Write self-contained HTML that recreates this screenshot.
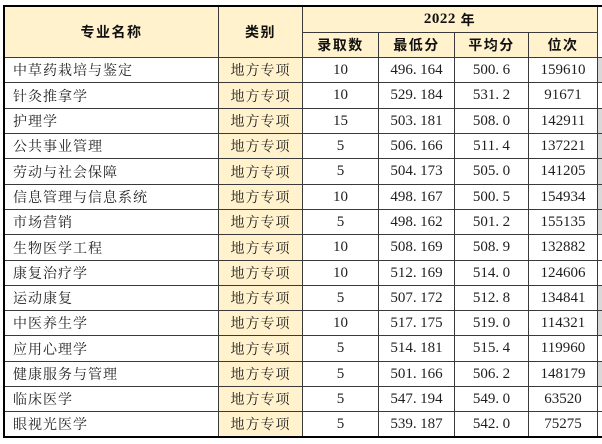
<!DOCTYPE html>
<html><head><meta charset="utf-8">
<style>
*{margin:0;padding:0;box-sizing:border-box}
body{width:602px;height:444px;background:#fff;position:relative;overflow:hidden;font-family:"Liberation Serif","Noto Serif CJK SC",serif;color:#1e1e1e}
.a{position:absolute}
.l{position:absolute;background:#3a3a3a}
.k{position:absolute;background:#000}
.c{position:absolute;display:flex;align-items:center;justify-content:center;white-space:nowrap}
.h{font-family:"Noto Sans CJK SC",sans-serif;font-weight:bold;font-size:14px;letter-spacing:1.5px;color:#111}
.n{font-family:"Liberation Serif",serif;font-size:15px}
.d{display:inline-block;width:7.3px;text-align:left}
.t{font-family:"Liberation Serif","Noto Serif CJK SC",serif;font-size:14px;letter-spacing:1px}
.nm{justify-content:flex-start;padding-left:8px}
</style></head><body>
<!-- backgrounds -->
<div class="a" style="left:5px;top:7px;width:592px;height:50px;background:#FFF2CC"></div>
<div class="a" style="left:219px;top:57px;width:83px;height:380px;background:#FFF2CC"></div>
<div class="a" style="left:598px;top:58px;width:4px;height:24px;background:#d9d9d9"></div>
<div class="a" style="left:598px;top:109px;width:4px;height:24px;background:#d9d9d9"></div>
<div class="a" style="left:598px;top:134px;width:4px;height:24px;background:#d9d9d9"></div>
<div class="a" style="left:598px;top:159px;width:4px;height:25px;background:#d9d9d9"></div>
<div class="a" style="left:598px;top:185px;width:4px;height:24px;background:#d9d9d9"></div>
<div class="a" style="left:598px;top:210px;width:4px;height:24px;background:#d9d9d9"></div>
<div class="a" style="left:598px;top:286px;width:4px;height:24px;background:#d9d9d9"></div>
<div class="a" style="left:598px;top:311px;width:4px;height:24px;background:#d9d9d9"></div>
<div class="a" style="left:598px;top:362px;width:4px;height:24px;background:#d9d9d9"></div>

<!-- grid lines -->
<div class="l" style="left:218px;top:7px;width:1px;height:430px"></div>
<div class="l" style="left:302px;top:7px;width:1px;height:430px"></div>
<div class="l" style="left:378px;top:32px;width:1px;height:405px"></div>
<div class="l" style="left:454px;top:32px;width:1px;height:405px"></div>
<div class="l" style="left:528px;top:32px;width:1px;height:405px"></div>
<div class="l" style="left:597px;top:7px;width:1px;height:430px"></div>
<div class="l" style="left:302px;top:32px;width:295px;height:1px"></div>
<div class="l" style="left:5px;top:57px;width:597px;height:1px"></div>
<div class="l" style="left:5px;top:82px;width:597px;height:1px"></div>
<div class="l" style="left:5px;top:108px;width:597px;height:1px"></div>
<div class="l" style="left:5px;top:133px;width:597px;height:1px"></div>
<div class="l" style="left:5px;top:158px;width:597px;height:1px"></div>
<div class="l" style="left:5px;top:184px;width:597px;height:1px"></div>
<div class="l" style="left:5px;top:209px;width:597px;height:1px"></div>
<div class="l" style="left:5px;top:234px;width:597px;height:1px"></div>
<div class="l" style="left:5px;top:260px;width:597px;height:1px"></div>
<div class="l" style="left:5px;top:285px;width:597px;height:1px"></div>
<div class="l" style="left:5px;top:310px;width:597px;height:1px"></div>
<div class="l" style="left:5px;top:335px;width:597px;height:1px"></div>
<div class="l" style="left:5px;top:361px;width:597px;height:1px"></div>
<div class="l" style="left:5px;top:386px;width:597px;height:1px"></div>
<div class="l" style="left:5px;top:411px;width:597px;height:1px"></div>
<div class="k" style="left:3px;top:5px;width:599px;height:2px"></div>
<div class="k" style="left:3px;top:436px;width:599px;height:2px"></div>
<div class="k" style="left:3px;top:5px;width:2px;height:433px"></div>

<!-- header -->
<div class="c h" style="left:5px;top:7px;width:213px;height:50px">专业名称</div>
<div class="c h" style="left:219px;top:7px;width:83px;height:50px">类别</div>
<div class="c h" style="left:303px;top:7px;width:294px;height:25px"><span style="font-family:'Liberation Serif',serif;font-size:15px;letter-spacing:0.5px">2022</span>&nbsp;年</div>
<div class="c h" style="left:303px;top:33px;width:75px;height:24px">录取数</div>
<div class="c h" style="left:379px;top:33px;width:75px;height:24px">最低分</div>
<div class="c h" style="left:455px;top:33px;width:73px;height:24px">平均分</div>
<div class="c h" style="left:529px;top:33px;width:68px;height:24px">位次</div>

<!-- rows -->
<div class="c t nm" style="left:5px;top:58px;width:213px;height:24px">中草药栽培与鉴定</div>
<div class="c t" style="left:219px;top:58px;width:83px;height:24px">地方专项</div>
<div class="c n" style="left:303px;top:58px;width:75px;height:24px">10</div>
<div class="c n" style="left:379px;top:58px;width:75px;height:24px">496<span class="d">.</span>164</div>
<div class="c n" style="left:455px;top:58px;width:73px;height:24px">500<span class="d">.</span>6</div>
<div class="c n" style="left:529px;top:58px;width:68px;height:24px">159610</div>

<div class="c t nm" style="left:5px;top:83px;width:213px;height:25px">针灸推拿学</div>
<div class="c t" style="left:219px;top:83px;width:83px;height:25px">地方专项</div>
<div class="c n" style="left:303px;top:83px;width:75px;height:25px">10</div>
<div class="c n" style="left:379px;top:83px;width:75px;height:25px">529<span class="d">.</span>184</div>
<div class="c n" style="left:455px;top:83px;width:73px;height:25px">531<span class="d">.</span>2</div>
<div class="c n" style="left:529px;top:83px;width:68px;height:25px">91671</div>

<div class="c t nm" style="left:5px;top:109px;width:213px;height:24px">护理学</div>
<div class="c t" style="left:219px;top:109px;width:83px;height:24px">地方专项</div>
<div class="c n" style="left:303px;top:109px;width:75px;height:24px">15</div>
<div class="c n" style="left:379px;top:109px;width:75px;height:24px">503<span class="d">.</span>181</div>
<div class="c n" style="left:455px;top:109px;width:73px;height:24px">508<span class="d">.</span>0</div>
<div class="c n" style="left:529px;top:109px;width:68px;height:24px">142911</div>

<div class="c t nm" style="left:5px;top:134px;width:213px;height:24px">公共事业管理</div>
<div class="c t" style="left:219px;top:134px;width:83px;height:24px">地方专项</div>
<div class="c n" style="left:303px;top:134px;width:75px;height:24px">5</div>
<div class="c n" style="left:379px;top:134px;width:75px;height:24px">506<span class="d">.</span>166</div>
<div class="c n" style="left:455px;top:134px;width:73px;height:24px">511<span class="d">.</span>4</div>
<div class="c n" style="left:529px;top:134px;width:68px;height:24px">137221</div>

<div class="c t nm" style="left:5px;top:159px;width:213px;height:25px">劳动与社会保障</div>
<div class="c t" style="left:219px;top:159px;width:83px;height:25px">地方专项</div>
<div class="c n" style="left:303px;top:159px;width:75px;height:25px">5</div>
<div class="c n" style="left:379px;top:159px;width:75px;height:25px">504<span class="d">.</span>173</div>
<div class="c n" style="left:455px;top:159px;width:73px;height:25px">505<span class="d">.</span>0</div>
<div class="c n" style="left:529px;top:159px;width:68px;height:25px">141205</div>

<div class="c t nm" style="left:5px;top:185px;width:213px;height:24px">信息管理与信息系统</div>
<div class="c t" style="left:219px;top:185px;width:83px;height:24px">地方专项</div>
<div class="c n" style="left:303px;top:185px;width:75px;height:24px">10</div>
<div class="c n" style="left:379px;top:185px;width:75px;height:24px">498<span class="d">.</span>167</div>
<div class="c n" style="left:455px;top:185px;width:73px;height:24px">500<span class="d">.</span>5</div>
<div class="c n" style="left:529px;top:185px;width:68px;height:24px">154934</div>

<div class="c t nm" style="left:5px;top:210px;width:213px;height:24px">市场营销</div>
<div class="c t" style="left:219px;top:210px;width:83px;height:24px">地方专项</div>
<div class="c n" style="left:303px;top:210px;width:75px;height:24px">5</div>
<div class="c n" style="left:379px;top:210px;width:75px;height:24px">498<span class="d">.</span>162</div>
<div class="c n" style="left:455px;top:210px;width:73px;height:24px">501<span class="d">.</span>2</div>
<div class="c n" style="left:529px;top:210px;width:68px;height:24px">155135</div>

<div class="c t nm" style="left:5px;top:235px;width:213px;height:25px">生物医学工程</div>
<div class="c t" style="left:219px;top:235px;width:83px;height:25px">地方专项</div>
<div class="c n" style="left:303px;top:235px;width:75px;height:25px">10</div>
<div class="c n" style="left:379px;top:235px;width:75px;height:25px">508<span class="d">.</span>169</div>
<div class="c n" style="left:455px;top:235px;width:73px;height:25px">508<span class="d">.</span>9</div>
<div class="c n" style="left:529px;top:235px;width:68px;height:25px">132882</div>

<div class="c t nm" style="left:5px;top:261px;width:213px;height:24px">康复治疗学</div>
<div class="c t" style="left:219px;top:261px;width:83px;height:24px">地方专项</div>
<div class="c n" style="left:303px;top:261px;width:75px;height:24px">10</div>
<div class="c n" style="left:379px;top:261px;width:75px;height:24px">512<span class="d">.</span>169</div>
<div class="c n" style="left:455px;top:261px;width:73px;height:24px">514<span class="d">.</span>0</div>
<div class="c n" style="left:529px;top:261px;width:68px;height:24px">124606</div>

<div class="c t nm" style="left:5px;top:286px;width:213px;height:24px">运动康复</div>
<div class="c t" style="left:219px;top:286px;width:83px;height:24px">地方专项</div>
<div class="c n" style="left:303px;top:286px;width:75px;height:24px">5</div>
<div class="c n" style="left:379px;top:286px;width:75px;height:24px">507<span class="d">.</span>172</div>
<div class="c n" style="left:455px;top:286px;width:73px;height:24px">512<span class="d">.</span>8</div>
<div class="c n" style="left:529px;top:286px;width:68px;height:24px">134841</div>

<div class="c t nm" style="left:5px;top:311px;width:213px;height:24px">中医养生学</div>
<div class="c t" style="left:219px;top:311px;width:83px;height:24px">地方专项</div>
<div class="c n" style="left:303px;top:311px;width:75px;height:24px">10</div>
<div class="c n" style="left:379px;top:311px;width:75px;height:24px">517<span class="d">.</span>175</div>
<div class="c n" style="left:455px;top:311px;width:73px;height:24px">519<span class="d">.</span>0</div>
<div class="c n" style="left:529px;top:311px;width:68px;height:24px">114321</div>

<div class="c t nm" style="left:5px;top:336px;width:213px;height:25px">应用心理学</div>
<div class="c t" style="left:219px;top:336px;width:83px;height:25px">地方专项</div>
<div class="c n" style="left:303px;top:336px;width:75px;height:25px">5</div>
<div class="c n" style="left:379px;top:336px;width:75px;height:25px">514<span class="d">.</span>181</div>
<div class="c n" style="left:455px;top:336px;width:73px;height:25px">515<span class="d">.</span>4</div>
<div class="c n" style="left:529px;top:336px;width:68px;height:25px">119960</div>

<div class="c t nm" style="left:5px;top:362px;width:213px;height:24px">健康服务与管理</div>
<div class="c t" style="left:219px;top:362px;width:83px;height:24px">地方专项</div>
<div class="c n" style="left:303px;top:362px;width:75px;height:24px">5</div>
<div class="c n" style="left:379px;top:362px;width:75px;height:24px">501<span class="d">.</span>166</div>
<div class="c n" style="left:455px;top:362px;width:73px;height:24px">506<span class="d">.</span>2</div>
<div class="c n" style="left:529px;top:362px;width:68px;height:24px">148179</div>

<div class="c t nm" style="left:5px;top:387px;width:213px;height:24px">临床医学</div>
<div class="c t" style="left:219px;top:387px;width:83px;height:24px">地方专项</div>
<div class="c n" style="left:303px;top:387px;width:75px;height:24px">5</div>
<div class="c n" style="left:379px;top:387px;width:75px;height:24px">547<span class="d">.</span>194</div>
<div class="c n" style="left:455px;top:387px;width:73px;height:24px">549<span class="d">.</span>0</div>
<div class="c n" style="left:529px;top:387px;width:68px;height:24px">63520</div>

<div class="c t nm" style="left:5px;top:412px;width:213px;height:24px">眼视光医学</div>
<div class="c t" style="left:219px;top:412px;width:83px;height:24px">地方专项</div>
<div class="c n" style="left:303px;top:412px;width:75px;height:24px">5</div>
<div class="c n" style="left:379px;top:412px;width:75px;height:24px">539<span class="d">.</span>187</div>
<div class="c n" style="left:455px;top:412px;width:73px;height:24px">542<span class="d">.</span>0</div>
<div class="c n" style="left:529px;top:412px;width:68px;height:24px">75275</div>
</body></html>
